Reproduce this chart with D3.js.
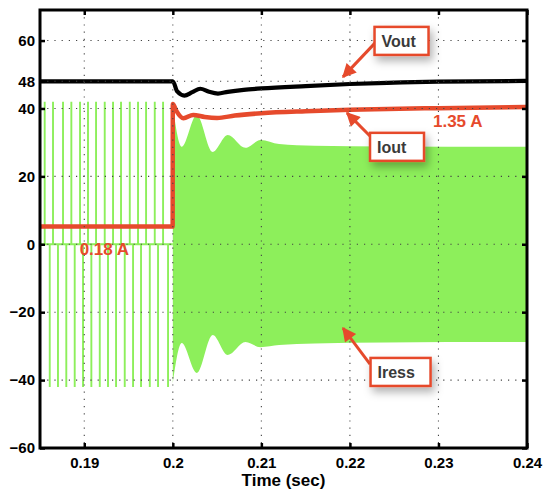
<!DOCTYPE html>
<html>
<head>
<meta charset="utf-8">
<script src="https://cdn.jsdelivr.net/npm/d3@7"></script>
<style>
  body { margin: 0; background: #fff; }
  svg text { font-family: "Liberation Sans", Arial, Helvetica, sans-serif; font-weight: bold; }
</style>
</head>
<body>
<div id="chart"></div>
<script>
// axis ticks
const xTicks = [0.19, 0.2, 0.21, 0.22, 0.23, 0.24];
const yTicks = [-60, -40, -20, 0, 20, 40, 48, 60];
const yGrid = [-40, -20, 0, 20, 40, 48, 60];

// Vout (black)
const voutT = [0.185, 0.2, 0.2005, 0.2013, 0.2022, 0.2031, 0.2041, 0.2051, 0.2062, 0.208, 0.21, 0.215, 0.22, 0.225, 0.23, 0.24];
const voutV = [48, 48, 45.0, 43.8, 44.8, 45.8, 44.9, 44.4, 44.9, 45.5, 45.9, 46.6, 47.2, 47.6, 47.9, 48.1];

// Iout (red, scaled)
const ioutT = [0.185, 0.19998, 0.2, 0.2004, 0.2012, 0.2023, 0.2036, 0.205, 0.207, 0.21, 0.215, 0.22, 0.23, 0.24];
const ioutV = [5.2, 5.2, 41.3, 39.3, 37.1, 38.1, 37.5, 37.2, 37.9, 38.6, 39.2, 39.6, 40.1, 40.4];

// Iress before the step: sparse pulses up / down
const pulseUpT = [0.18553, 0.18647, 0.1876, 0.18854, 0.18952, 0.19042, 0.19133, 0.19231, 0.19325, 0.19415, 0.19514, 0.19607, 0.19698, 0.19796, 0.1989];
const pulseDownT = [0.1861, 0.18703, 0.18797, 0.18892, 0.18986, 0.1908, 0.19175, 0.19268, 0.19359, 0.19457, 0.19551, 0.19641, 0.1974, 0.19833, 0.19946];
const pulseAmp = 42;

// Iress after the step: envelope of the dense oscillation
const envT = [0.2, 0.201, 0.2027, 0.2045, 0.2062, 0.2082, 0.2099, 0.212, 0.216, 0.224, 0.24];
const envTop = [40.4, 28.7, 38.1, 27.2, 32.2, 28.4, 30.7, 29.5, 29.0, 28.8, 28.7];
const envBot = [-40.9, -29.1, -37.9, -26.7, -32.6, -28.8, -30.3, -29.7, -29.2, -28.9, -28.8];

// callouts
const calloutText = ['Vout', 'Iout', 'Iress'];
const calloutBox = [[0.22583, 59.9], [0.22532, 28.7], [0.22538, -37.6]];
const calloutTail = [[0.22317, 60.2], [0.22249, 31.3], [0.22227, -35.3]];
const calloutTip = [[0.21922, 49.3], [0.21967, 38.7], [0.21922, -24.7]];
const valueText = ['1.35 A', '0.18 A'];
const valueAt = [[0.22938, 34.5], [0.18948, -3.2]];

const W = 549, H = 493;
const margin = {top: 10, right: 22, bottom: 45, left: 40};
const RED = '#e64a2c', GREEN = '#8def5b';

const svg = d3.select('#chart').append('svg')
  .attr('width', W)
  .attr('height', H);

const x = d3.scaleLinear().domain([0.185, 0.24]).range([margin.left, W - margin.right]);
const y = d3.scaleLinear().domain([-60, 69]).range([H - margin.bottom, margin.top]);

const defs = svg.append('defs');
defs.append('clipPath').attr('id', 'plot-clip')
  .append('rect')
  .attr('x', x(0.185)).attr('y', y(69))
  .attr('width', x(0.24) - x(0.185)).attr('height', y(-60) - y(69));
const shadow = defs.append('filter').attr('id', 'shadow')
  .attr('x', '-40%').attr('y', '-40%').attr('width', '180%').attr('height', '200%');
shadow.append('feDropShadow')
  .attr('dx', 3).attr('dy', 5).attr('stdDeviation', 4)
  .attr('flood-color', '#000').attr('flood-opacity', 0.3);
defs.append('marker')
  .attr('id', 'head')
  .attr('viewBox', '0 0 10 10')
  .attr('refX', 9).attr('refY', 5)
  .attr('markerUnits', 'userSpaceOnUse')
  .attr('markerWidth', 16).attr('markerHeight', 14)
  .attr('orient', 'auto')
  .append('path')
  .attr('d', 'M0,0 L10,5 L0,10 z')
  .attr('fill', RED);

const plot = svg.append('g').attr('clip-path', 'url(#plot-clip)');

// Iress pulses before 0.2
const pulsePts = [[0.185, 0]];
d3.sort(pulseUpT.map(t => [t, pulseAmp]).concat(pulseDownT.map(t => [t, -pulseAmp])), d => d[0])
  .forEach(p => {
    pulsePts.push([p[0], 0], p, [p[0], 0]);
  });
pulsePts.push([0.2, 0]);
plot.append('path')
  .datum(pulsePts)
  .attr('fill', 'none')
  .attr('stroke', GREEN)
  .attr('stroke-width', 1.9)
  .attr('d', d3.line().x(d => x(d[0])).y(d => y(d[1])));

// Iress dense oscillation
plot.append('path')
  .datum(envT.map((t, i) => ({t, top: envTop[i], bot: envBot[i]})))
  .attr('fill', GREEN)
  .attr('d', d3.area()
    .curve(d3.curveMonotoneX)
    .x(d => x(d.t))
    .y0(d => y(d.bot))
    .y1(d => y(d.top)));

// grid (drawn on top, as in the original)
const grid = svg.append('g')
  .attr('stroke', '#444')
  .attr('stroke-width', 1.1)
  .attr('stroke-dasharray', '1.2,6');
grid.selectAll('.gx').data(xTicks.slice(0, -1)).join('line')
  .attr('x1', d => x(d)).attr('x2', d => x(d))
  .attr('y1', y(69)).attr('y2', y(-60));
grid.selectAll('.gy').data(yGrid).join('line')
  .attr('y1', d => y(d)).attr('y2', d => y(d))
  .attr('x1', x(0.185)).attr('x2', x(0.24));

// Vout
plot.append('path')
  .datum(voutT.map((t, i) => [t, voutV[i]]))
  .attr('fill', 'none')
  .attr('stroke', '#000')
  .attr('stroke-width', 4.2)
  .attr('d', d3.line().curve(d3.curveMonotoneX).x(d => x(d[0])).y(d => y(d[1])));

// Iout
plot.append('path')
  .datum(ioutT.map((t, i) => [t, ioutV[i]]))
  .attr('fill', 'none')
  .attr('stroke', RED)
  .attr('stroke-width', 4.5)
  .attr('d', d3.line().curve(d3.curveMonotoneX).x(d => x(d[0])).y(d => y(d[1])));

// axes, ticks pointing inward
const tickFont = g => g.selectAll('text').attr('font-size', 15).attr('fill', '#000');
svg.append('g')
  .attr('transform', `translate(0,${y(-60)})`)
  .call(d3.axisBottom(x).tickValues(xTicks).tickSize(-5).tickPadding(9)
    .tickFormat(d => String(+d.toFixed(3))))
  .call(g => g.select('.domain').remove())
  .call(g => g.selectAll('line').attr('stroke-width', 2.5))
  .call(tickFont);
svg.append('g')
  .attr('transform', `translate(0,${y(69)})`)
  .call(d3.axisTop(x).tickValues(xTicks).tickSize(-5).tickFormat(''))
  .call(g => g.select('.domain').remove())
  .call(g => g.selectAll('line').attr('stroke-width', 2.5));
svg.append('g')
  .attr('transform', `translate(${x(0.185)},0)`)
  .call(d3.axisLeft(y).tickValues(yTicks).tickSize(-5).tickPadding(5))
  .call(g => g.select('.domain').remove())
  .call(g => g.selectAll('line').attr('stroke-width', 2.5))
  .call(tickFont);
svg.append('g')
  .attr('transform', `translate(${x(0.24)},0)`)
  .call(d3.axisRight(y).tickValues(yTicks).tickSize(-5).tickFormat(''))
  .call(g => g.select('.domain').remove())
  .call(g => g.selectAll('line').attr('stroke-width', 2.5));

svg.append('rect')
  .attr('x', x(0.185)).attr('y', y(69))
  .attr('width', x(0.24) - x(0.185)).attr('height', y(-60) - y(69))
  .attr('fill', 'none')
  .attr('stroke', '#000')
  .attr('stroke-width', 3);

svg.append('text')
  .attr('x', (x(0.185) + x(0.24)) / 2)
  .attr('y', H - 7)
  .attr('text-anchor', 'middle')
  .attr('font-size', 17)
  .text('Time (sec)');

// value notes
svg.selectAll('.value').data(valueText).join('text')
  .attr('x', (d, i) => x(valueAt[i][0]))
  .attr('y', (d, i) => y(valueAt[i][1]))
  .attr('font-size', 17)
  .attr('fill', RED)
  .text(d => d);

// callout arrows + boxes
const callouts = svg.selectAll('.callout').data(calloutText).join('g');
callouts.append('line')
  .attr('x1', (d, i) => x(calloutTail[i][0]))
  .attr('y1', (d, i) => y(calloutTail[i][1]))
  .attr('x2', (d, i) => x(calloutTip[i][0]))
  .attr('y2', (d, i) => y(calloutTip[i][1]))
  .attr('stroke', RED)
  .attr('stroke-width', 3)
  .attr('marker-end', 'url(#head)');
callouts.append('rect')
  .attr('x', (d, i) => x(calloutBox[i][0]) - 27)
  .attr('y', (d, i) => y(calloutBox[i][1]) - 14)
  .attr('width', (d, i) => i === 2 ? 60 : 54)
  .attr('height', 28)
  .attr('fill', '#fff')
  .attr('stroke', RED)
  .attr('stroke-width', 2.5)
  .attr('filter', 'url(#shadow)');
callouts.append('text')
  .attr('x', (d, i) => x(calloutBox[i][0]) - 20)
  .attr('y', (d, i) => y(calloutBox[i][1]) + 6)
  .attr('font-size', 16)
  .attr('fill', '#3a3a3a')
  .text(d => d);
</script>
</body>
</html>
